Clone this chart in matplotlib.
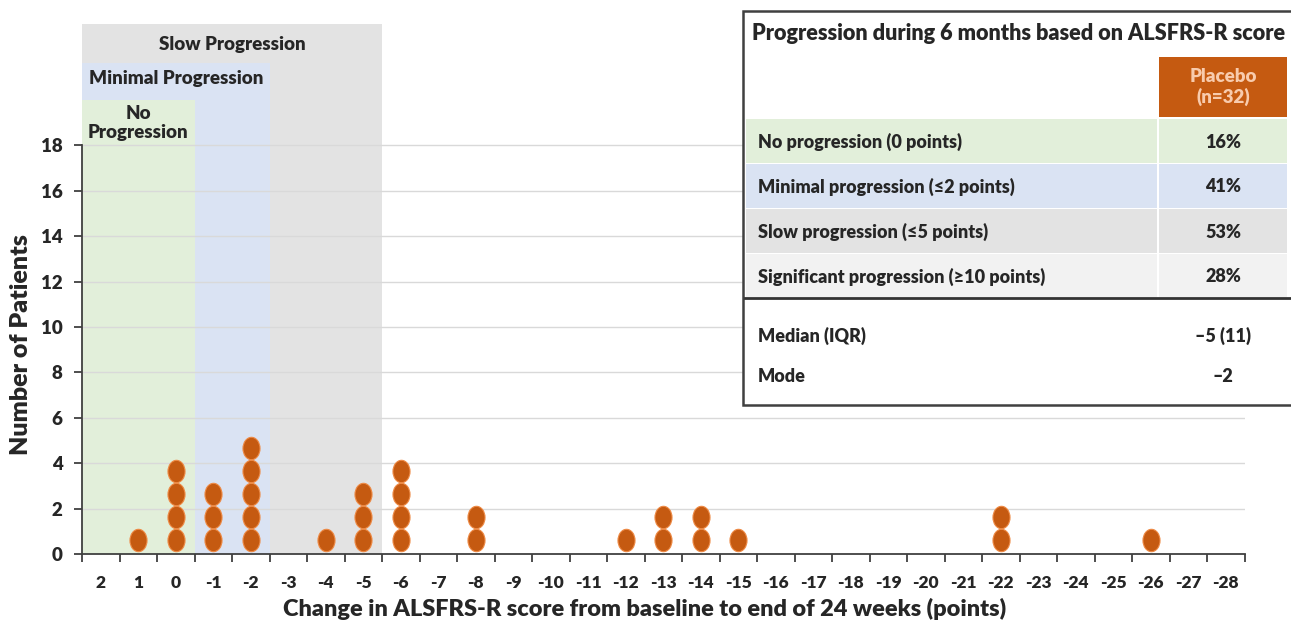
import matplotlib.pyplot as plt
from matplotlib.path import Path
from matplotlib.transforms import Affine2D
from matplotlib.patches import Rectangle

plt.rcParams['font.family'] = ['Lato', 'DejaVu Sans']
plt.rcParams['font.weight'] = 'heavy'
plt.rcParams['axes.labelweight'] = 'heavy'

# data
scores = list(range(2, -29, -1))
dot_scores = [1, 0, -1, -2, -4, -5, -6, -8, -12, -13, -14, -15, -22, -26]
dot_counts = [1, 4, 3, 5, 1, 3, 4, 2, 1, 2, 2, 1, 2, 1]

zone_names = ["Slow Progression", "Minimal Progression", "No\nProgression"]
zone_edges = [-5.5, -2.5, -0.5]
zone_tops = [23.34, 21.62, 20.0]
zone_colors = ["#E3E3E3", "#DAE3F3", "#E2EFDA"]

table_title = "Progression during 6 months based on ALSFRS-R score"
table_header = "Placebo\n(n=32)"
row_labels = ["No progression (0 points)", "Minimal progression (\u22642 points)",
              "Slow progression (\u22645 points)", "Significant progression (\u226510 points)"]
row_values = ["16%", "41%", "53%", "28%"]
row_colors = ["#E2EFDA", "#DAE3F3", "#E3E3E3", "#F2F2F2"]
stat_labels = ["Median (IQR)", "Mode"]
stat_values = ["\u20135 (11)", "\u20132"]

dark = "#262626"
orange = "#C55A11"

fig = plt.figure(figsize=(12.91, 6.28), dpi=100)
ax = fig.add_axes([82/1291, 74/628, 1162.5/1291, 530/628])

# shaded zones (drawn widest first)
for name, edge, top, col in zip(zone_names, zone_edges, zone_tops, zone_colors):
    ax.fill_between([2.5, edge], 0, top, color=col, lw=0, zorder=0)
ax.text(-1.5, 22.45, zone_names[0], ha='center', va='center', fontsize=13.5, color=dark, zorder=3)
ax.text(0, 20.92, zone_names[1], ha='center', va='center', fontsize=13.5, color=dark, zorder=3)
ax.text(1, 19.0, zone_names[2], ha='center', va='center', fontsize=13.5, color=dark,
        linespacing=1.15, zorder=3)

# gridlines
for yv in range(2, 19, 2):
    ax.plot([2.5, -28.5], [yv, yv], color="#D9D9D9", lw=1, zorder=1)

# dots
ell = Path.unit_circle().transformed(Affine2D().scale(16/21, 1))
xs, ys = [], []
for s, c in zip(dot_scores, dot_counts):
    for k in range(c):
        xs.append(s)
        ys.append(0.62 + 1.01*k)
ax.scatter(xs, ys, marker=ell, s=260, facecolor=orange, edgecolor="#EE8A45",
           linewidths=0.8, zorder=4)

ax.set_xlim(2.5, -28.5)
ax.set_ylim(0, 23.34)
ax.set_xticks(scores)
ax.set_xticklabels([str(s) for s in scores])
ax.set_xticks([s + 0.5 for s in scores] + [-28.5], minor=True)
ax.tick_params(axis='x', which='major', length=0, pad=15, labelsize=12.5, labelcolor=dark)
ax.tick_params(axis='x', which='minor', length=6, width=1.3, color="#404040", direction='out')
ax.set_yticks(range(0, 19, 2))
ax.tick_params(axis='y', length=6, width=1.3, color="#404040", labelsize=13.5, labelcolor=dark, pad=8)
for sp in ['top', 'right']:
    ax.spines[sp].set_visible(False)
ax.spines['left'].set_bounds(0, 18)
ax.spines['left'].set_color("#404040")
ax.spines['left'].set_linewidth(1.3)
ax.spines['bottom'].set_color("#404040")
ax.spines['bottom'].set_linewidth(1.3)
ax.set_facecolor('none')

fig.text(645/1291, 1 - 609/628,
         "Change in ALSFRS-R score from baseline to end of 24 weeks (points)",
         ha='center', va='center', fontsize=16.9, color=dark)
fig.text(21/1291, 1 - 345/628, "Number of Patients", rotation=90, ha='center', va='center',
         fontsize=18, color=dark)

# table overlay in pixel coordinates
tx = fig.add_axes([0, 0, 1, 1])
tx.set_xlim(0, 1291)
tx.set_ylim(628, 0)
tx.axis('off')
tx.add_patch(Rectangle((743, 11), 600, 394, facecolor='white', edgecolor="#404040", lw=1.8))
tx.text(752, 34, table_title, ha='left', va='center', fontsize=15.6, color=dark)
tx.add_patch(Rectangle((1159, 57), 128, 60, facecolor=orange, edgecolor='none'))
tx.text(1223, 87, table_header, ha='center', va='center', fontsize=13.5, color="#F8CBAD",
        linespacing=1.15)
row_y = [119, 164, 209, 254]
row_h = [44, 44, 44, 43]
for lab, val, col, y0, h in zip(row_labels, row_values, row_colors, row_y, row_h):
    tx.add_patch(Rectangle((746, y0), 411, h, facecolor=col, edgecolor='none'))
    tx.add_patch(Rectangle((1159, y0), 128, h, facecolor=col, edgecolor='none'))
    tx.text(758, y0 + h/2 + 1, lab, ha='left', va='center', fontsize=13, color=dark)
    tx.text(1223, y0 + h/2 + 1, val, ha='center', va='center', fontsize=13, color=dark)
tx.plot([745, 1291], [298, 298], color="#333333", lw=2)
for lab, val, yv in zip(stat_labels, stat_values, [336, 376]):
    tx.text(758, yv, lab, ha='left', va='center', fontsize=13, color=dark)
    tx.text(1223, yv, val, ha='center', va='center', fontsize=13, color=dark)

fig.savefig("out.png", dpi=100)
